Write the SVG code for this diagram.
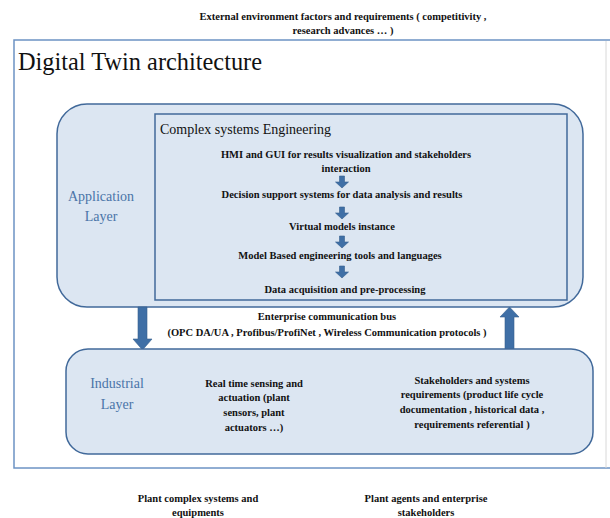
<svg xmlns="http://www.w3.org/2000/svg" width="610" height="518" viewBox="0 0 610 518">
<defs>
<style>
.t{font-family:"Liberation Serif","Times New Roman",serif;font-weight:bold;font-size:10.5px;fill:#111;text-anchor:middle}
.blue{font-family:"Liberation Serif","Times New Roman",serif;font-size:14px;fill:#4a74a8;text-anchor:middle}
.serif{font-family:"Liberation Serif","Times New Roman",serif;fill:#111}
.layer{fill:#dce6f2;stroke:#41699a;stroke-width:1.5}
.arr{fill:#3f6fa6;stroke:#355f8f;stroke-width:0.6}
</style>
<path id="sa" d="M-2.5,0 H2.5 V6 H6.5 L0,12 L-6.5,6 H-2.5 Z"/>
</defs>
<rect width="610" height="518" fill="#fff"/>
<g id="external">
<text class="t" x="343" y="20">External environment factors and requirements ( competitivity  ,</text>
<text class="t" x="343" y="34">research advances … )</text>
</g>
<g id="frame">
<rect x="14" y="40" width="600" height="428" fill="none" stroke="#6c93c4" stroke-width="1.5"/>
<line x1="606" y1="41" x2="606" y2="468" stroke="#d8d8d8" stroke-width="1"/>
<text class="serif" x="18" y="70" font-size="25" textLength="244" lengthAdjust="spacingAndGlyphs">Digital Twin architecture</text>
</g>
<g id="application-layer">
<rect class="layer" x="57" y="104" width="526" height="203" rx="30"/>
<text class="blue" x="101" y="201">Application</text>
<text class="blue" x="101" y="221">Layer</text>
</g>
<g id="complex-systems">
<rect x="155" y="114" width="412" height="186" fill="#dce6f2" stroke="#41699a" stroke-width="1.5"/>
<text class="serif" x="160" y="134" font-size="14">Complex systems Engineering</text>
<text class="t" x="346" y="158">HMI and GUI  for  results visualization and stakeholders</text>
<text class="t" x="346" y="172">interaction</text>
<text class="t" x="342" y="198">Decision support systems for data analysis and results</text>
<text class="t" x="342" y="230">Virtual models instance</text>
<text class="t" x="340" y="259">Model Based engineering tools and languages</text>
<text class="t" x="345" y="293">Data acquisition and pre-processing</text>
</g>
<g id="connectors">
<use href="#sa" class="arr" x="342" y="176"/>
<use href="#sa" class="arr" x="342" y="207"/>
<use href="#sa" class="arr" x="342" y="236"/>
<use href="#sa" class="arr" x="342" y="266"/>
<path class="arr" d="M138,307 H147 V339 H152 L142.5,350 L133,339 H138 Z"/>
<path class="arr" d="M505,349 H514 V317 H519 L509.5,307 L500,317 H505 Z"/>
</g>
<g id="bus">
<text class="t" x="327" y="320">Enterprise communication bus</text>
<text class="t" x="327" y="336">(OPC DA/UA , Profibus/ProfiNet , Wireless Communication protocols )</text>
</g>
<g id="industrial-layer">
<rect class="layer" x="66" y="349" width="527" height="105" rx="22"/>
<text class="blue" x="117" y="388">Industrial</text>
<text class="blue" x="117" y="409">Layer</text>
<text class="t" x="254" y="387">Real time sensing and</text>
<text class="t" x="254" y="401">actuation (plant</text>
<text class="t" x="254" y="416">sensors, plant</text>
<text class="t" x="254" y="431">actuators …)</text>
<text class="t" x="472" y="384">Stakeholders and systems</text>
<text class="t" x="472" y="398">requirements (product life cycle</text>
<text class="t" x="472" y="413">documentation , historical data ,</text>
<text class="t" x="472" y="428">requirements referential )</text>
</g>
<g id="plant">
<text class="t" x="198" y="502">Plant complex systems and</text>
<text class="t" x="198" y="516">equipments</text>
</g>
<g id="agents">
<text class="t" x="426" y="502">Plant agents and enterprise</text>
<text class="t" x="426" y="516">stakeholders</text>
</g>
</svg>
